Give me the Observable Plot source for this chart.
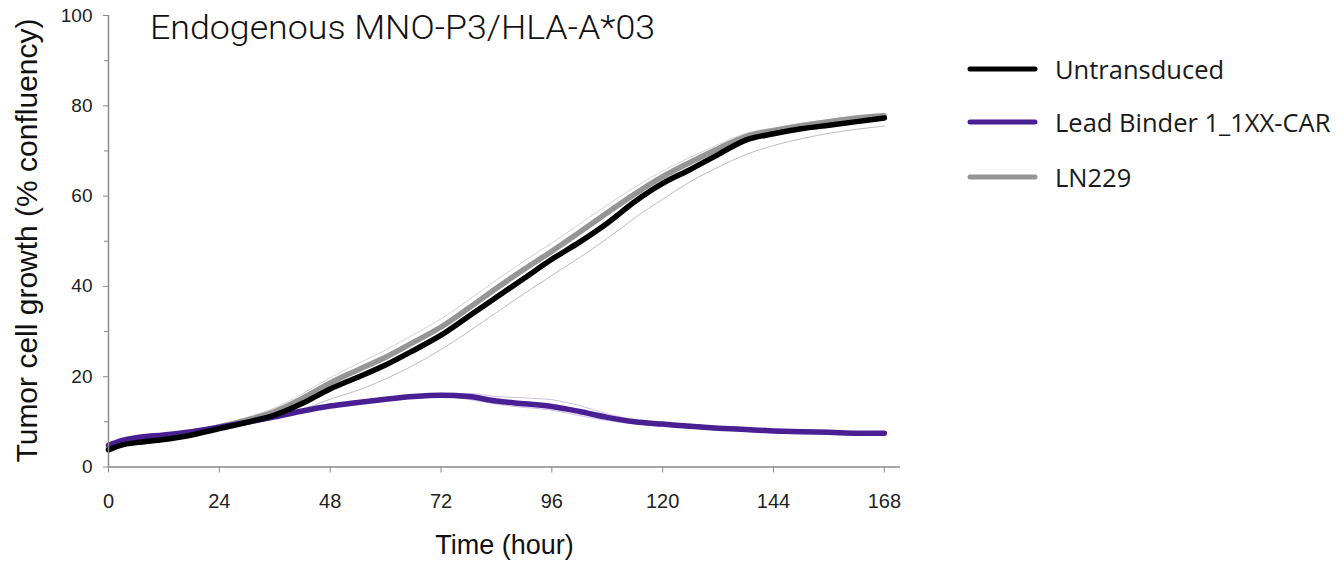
<!DOCTYPE html>
<html>
<head>
<meta charset="utf-8">
<script src="https://cdn.jsdelivr.net/npm/d3@7"></script>
<script src="https://cdn.jsdelivr.net/npm/@observablehq/plot@0.6"></script>
<style>
  html, body { margin: 0; padding: 0; background: #fff; }
  #chart { width: 1342px; height: 564px; overflow: hidden; }
</style>
</head>
<body>
<div id="chart"></div>
<script>
// ---- data ----
const hours = [0, 3, 6, 12, 18, 24, 30, 36, 42, 48, 54, 60, 66, 72, 78, 84, 90, 96, 102, 108, 114, 120, 126, 132, 138, 144, 150, 156, 162, 168];

const untransduced = [3.8, 4.9, 5.4, 6.1, 7.1, 8.5, 9.9, 11.5, 14.1, 17.3, 19.9, 22.6, 25.8, 29.2, 33.4, 37.6, 41.8, 46.0, 49.8, 54.0, 58.8, 62.8, 65.9, 69.2, 72.4, 73.8, 74.9, 75.7, 76.5, 77.3];
const untransducedLow = [3.6, 4.7, 5.2, 5.9, 6.9, 8.2, 9.5, 11.0, 12.8, 15.0, 17.0, 19.5, 22.5, 26.0, 30.0, 34.2, 38.4, 42.4, 46.4, 50.6, 55.2, 59.3, 63.2, 66.4, 69.2, 71.2, 72.7, 73.9, 74.8, 75.5];

const leadBinder = [4.8, 5.9, 6.5, 7.1, 7.8, 8.8, 9.9, 11.1, 12.4, 13.5, 14.3, 15.0, 15.6, 15.9, 15.6, 14.6, 14.0, 13.4, 12.3, 11.0, 10.0, 9.5, 9.0, 8.6, 8.3, 8.0, 7.8, 7.7, 7.5, 7.5];
const leadBinderHigh = [5.1, 6.2, 6.8, 7.4, 8.1, 9.1, 10.2, 11.4, 12.7, 13.8, 14.6, 15.3, 15.9, 16.3, 16.3, 15.6, 15.3, 14.9, 13.6, 11.8, 10.5, 9.9, 9.4, 9.0, 8.7, 8.4, 8.2, 8.0, 7.8, 7.8];
const leadBinderLow = [4.5, 5.6, 6.2, 6.8, 7.5, 8.5, 9.6, 10.8, 12.1, 13.2, 14.0, 14.7, 15.3, 15.5, 15.0, 13.9, 13.2, 12.6, 11.4, 10.3, 9.5, 9.1, 8.6, 8.2, 7.9, 7.6, 7.4, 7.3, 7.1, 7.1];

const ln229 = [4.3, 5.2, 5.7, 6.4, 7.5, 8.9, 10.4, 12.3, 15.2, 18.6, 21.5, 24.3, 27.6, 31.0, 35.2, 39.6, 43.8, 47.8, 52.0, 56.3, 60.5, 64.3, 67.5, 70.5, 73.2, 74.5, 75.6, 76.5, 77.3, 77.8];
const ln229High = [4.6, 5.5, 6.0, 6.8, 8.0, 9.4, 11.0, 13.1, 16.2, 19.8, 22.9, 25.9, 29.3, 32.8, 37.0, 41.4, 45.6, 49.6, 53.8, 58.0, 62.0, 65.6, 68.6, 71.4, 73.9, 75.1, 76.1, 76.9, 77.7, 78.2];

const seriesNames = ["Untransduced", "Lead Binder 1_1XX-CAR", "LN229"];
const seriesColors = ["#000000", "#4a1f94", "#959595"];
const bandColors = ["#bdbdbd", "#cdbde6", "#d2d2d2"];

const xTicks = [0, 24, 48, 72, 96, 120, 144, 168];
const yTicks = [0, 20, 40, 60, 80, 100];
const yMinorTicks = [10, 30, 50, 70, 90];

const titleText = "Endogenous MNO-P3/HLA-A*03";
const xLabel = "Time (hour)";
const yLabel = "Tumor cell growth (% confluency)";

// ---- build tidy tables ----
const toRows = (vals) => hours.map((h, i) => ({hour: h, value: vals[i]}));

const axisColor = "#8a8a8a";
const curve = "monotone-x";
const mainLine = {x: "hour", y: "value", strokeWidth: 5.5, strokeLinecap: "round", strokeLinejoin: "round", curve};

const chart = Plot.plot({
  width: 1342,
  height: 564,
  marginLeft: 108,
  marginRight: 442,
  marginTop: 15,
  marginBottom: 97.5,
  style: {fontFamily: "'Liberation Sans', Arial, sans-serif", background: "#fff", overflow: "visible"},
  x: {domain: [0, 171.5], axis: null},
  y: {domain: [0, 100], axis: null},
  marks: [
    // error-band outlines
    Plot.line(toRows(untransducedLow), {x: "hour", y: "value", stroke: bandColors[0], strokeWidth: 1, curve}),
    Plot.line(toRows(ln229High), {x: "hour", y: "value", stroke: bandColors[2], strokeWidth: 1, curve}),
    Plot.line(toRows(leadBinderHigh), {x: "hour", y: "value", stroke: bandColors[1], strokeWidth: 1, curve}),
    Plot.line(toRows(leadBinderLow), {x: "hour", y: "value", stroke: bandColors[1], strokeWidth: 1, curve}),
    // main series
    Plot.line(toRows(ln229), {...mainLine, stroke: seriesColors[2]}),
    Plot.line(toRows(leadBinder), {...mainLine, stroke: seriesColors[1]}),
    Plot.line(toRows(untransduced), {...mainLine, stroke: seriesColors[0]}),
    // axis lines
    Plot.ruleX([0], {y1: 0, y2: 100, stroke: axisColor, strokeWidth: 1.5}),
    Plot.ruleY([0], {stroke: axisColor, strokeWidth: 1.5}),
    // ticks
    Plot.axisX({ticks: xTicks, tickSize: 6, tickFormat: () => "", color: axisColor, label: null}),
    Plot.axisY({ticks: yTicks, tickSize: 5, tickFormat: () => "", color: axisColor, label: null}),
    Plot.axisY({ticks: yMinorTicks, tickSize: 4, tickFormat: () => "", color: axisColor, label: null}),
    // tick labels
    Plot.text(xTicks, {x: d => d, y: 0, text: d => String(d), dy: 35, fontSize: 20, fill: "#222", textAnchor: "middle"}),
    Plot.text(yTicks, {x: 0, y: d => d, text: d => String(d), dx: -16, fontSize: 19, fill: "#222", textAnchor: "end"})
  ]
});

document.getElementById("chart").appendChild(chart);

// ---- title, axis labels and legend drawn into the same svg ----
const svg = d3.select(chart);

svg.append("text")
  .attr("x", 150).attr("y", 39)
  .attr("text-anchor", "start")
  .attr("font-family", "Roboto, 'Liberation Sans', sans-serif")
  .attr("font-weight", 300)
  .attr("font-size", 34)
  .attr("fill", "#111")
  .attr("textLength", 505)
  .attr("lengthAdjust", "spacingAndGlyphs")
  .text(titleText);

svg.append("text")
  .attr("x", 504.5).attr("y", 554)
  .attr("text-anchor", "middle")
  .attr("font-family", "'Liberation Sans', Arial, sans-serif")
  .attr("font-size", 27)
  .attr("fill", "#111")
  .text(xLabel);

svg.append("text")
  .attr("transform", "translate(37,240.5) rotate(-90)")
  .attr("text-anchor", "middle")
  .attr("font-family", "'Liberation Sans', Arial, sans-serif")
  .attr("font-size", 30)
  .attr("fill", "#111")
  .text(yLabel);

const legendRowY = [69, 122, 177];
const lg = svg.append("g");
seriesNames.forEach((name, i) => {
  lg.append("line")
    .attr("x1", 970).attr("x2", 1035)
    .attr("y1", legendRowY[i]).attr("y2", legendRowY[i])
    .attr("stroke", seriesColors[i])
    .attr("stroke-width", 5)
    .attr("stroke-linecap", "round");
  lg.append("text")
    .attr("x", 1055).attr("y", legendRowY[i] + 10)
    .attr("text-anchor", "start")
    .attr("font-family", "'Open Sans', 'Noto Sans', sans-serif")
    .attr("font-size", 25.5)
    .attr("fill", "#1a1a1a")
    .text(name);
});
</script>
</body>
</html>
